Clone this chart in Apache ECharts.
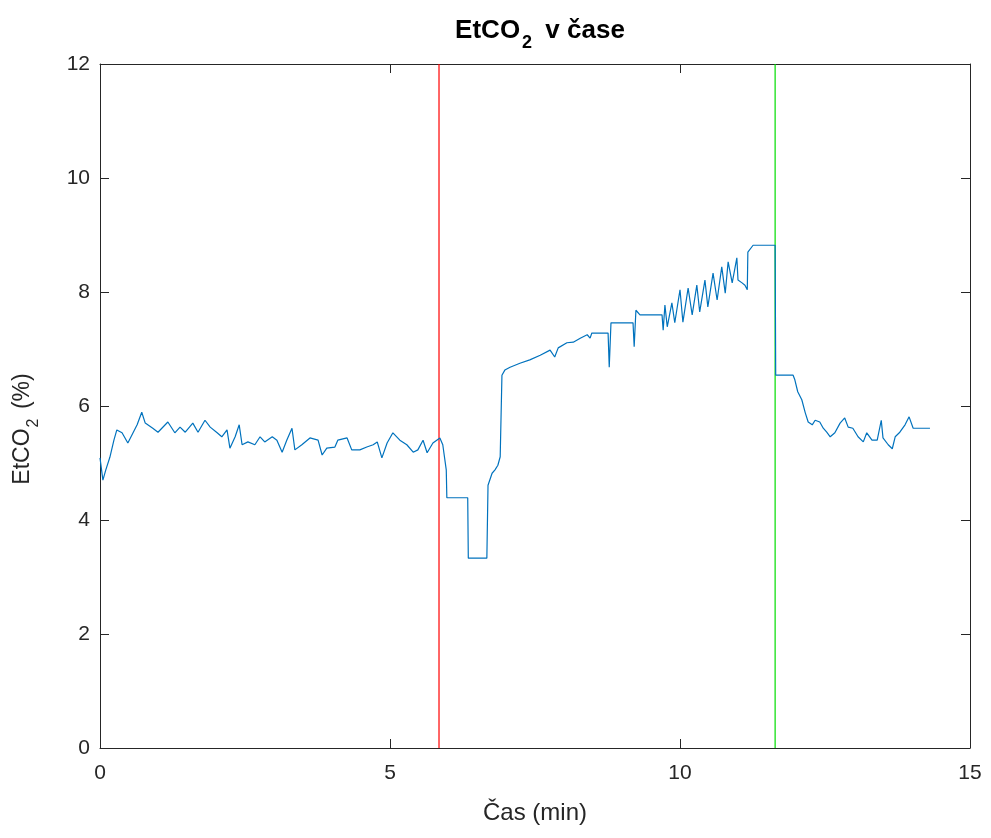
<!DOCTYPE html>
<html>
<head>
<meta charset="utf-8">
<script src="https://cdn.jsdelivr.net/npm/echarts@6/dist/echarts.min.js"></script>
<style>
  html, body { margin: 0; padding: 0; background: #fff; }
  #chart { width: 991px; height: 838px; }
</style>
</head>
<body>
<div id="chart"></div>
<script>
// čas (min)
const time = [0, 0.05, 0.10, 0.17, 0.24, 0.29, 0.38, 0.48, 0.57, 0.64, 0.72, 0.78, 0.91, 1.00, 1.17, 1.29, 1.38, 1.47, 1.60, 1.69,
  1.81, 1.90, 2.02, 2.10, 2.19, 2.24, 2.33, 2.40, 2.45, 2.55, 2.67, 2.76, 2.84, 2.97, 3.05, 3.14, 3.22, 3.31, 3.36, 3.48,
  3.62, 3.76, 3.83, 3.91, 4.05, 4.10, 4.26, 4.34, 4.48, 4.60, 4.71, 4.78, 4.86, 4.95, 5.05, 5.17, 5.29, 5.40, 5.48, 5.57,
  5.64, 5.74, 5.86, 5.91, 5.97, 5.98, 6.34, 6.35, 6.67, 6.69, 6.76, 6.81, 6.86, 6.90, 6.93, 6.98, 7.07, 7.24, 7.41, 7.59,
  7.76, 7.84, 7.90, 8.05, 8.16, 8.28, 8.40, 8.45, 8.48, 8.76, 8.78, 8.81, 9.19, 9.21, 9.24, 9.31, 9.69, 9.71, 9.74, 9.78,
  9.86, 9.91, 10.00, 10.05, 10.14, 10.21, 10.29, 10.34, 10.43, 10.48, 10.57, 10.64, 10.72, 10.78, 10.83, 10.90, 10.98, 11.00, 11.07, 11.12,
  11.16, 11.17, 11.26, 11.64, 11.65, 11.95, 11.98, 12.03, 12.10, 12.16, 12.21, 12.28, 12.33, 12.41, 12.47, 12.53, 12.59, 12.67, 12.76, 12.84,
  12.90, 12.98, 13.07, 13.16, 13.22, 13.31, 13.40, 13.47, 13.50, 13.59, 13.66, 13.71, 13.79, 13.88, 13.95, 14.02, 14.31];
// EtCO2 (%)
const etco2 = [5.09, 4.70, 4.88, 5.10, 5.40, 5.58, 5.53, 5.35, 5.53, 5.67, 5.89, 5.70, 5.61, 5.54, 5.72, 5.53, 5.63, 5.54, 5.70, 5.54,
  5.75, 5.63, 5.53, 5.46, 5.58, 5.26, 5.46, 5.67, 5.32, 5.37, 5.32, 5.46, 5.37, 5.46, 5.40, 5.19, 5.40, 5.61, 5.23, 5.32,
  5.44, 5.40, 5.14, 5.26, 5.28, 5.40, 5.44, 5.23, 5.23, 5.28, 5.32, 5.37, 5.09, 5.35, 5.53, 5.40, 5.32, 5.19, 5.23, 5.40,
  5.18, 5.35, 5.44, 5.32, 4.88, 4.39, 4.39, 3.33, 3.33, 4.61, 4.82, 4.88, 4.96, 5.11, 6.54, 6.63, 6.68, 6.75, 6.81, 6.89,
  6.98, 6.86, 7.02, 7.11, 7.12, 7.19, 7.25, 7.19, 7.28, 7.28, 6.68, 7.46, 7.46, 7.04, 7.68, 7.60, 7.60, 7.33, 7.77, 7.39,
  7.81, 7.46, 8.04, 7.47, 8.07, 7.60, 8.12, 7.65, 8.21, 7.74, 8.33, 7.86, 8.44, 7.98, 8.53, 8.16, 8.60, 8.21, 8.16, 8.12,
  8.04, 8.70, 8.82, 8.82, 6.54, 6.54, 6.46, 6.25, 6.11, 5.88, 5.72, 5.67, 5.75, 5.72, 5.61, 5.54, 5.46, 5.53, 5.70, 5.79,
  5.63, 5.61, 5.46, 5.37, 5.53, 5.40, 5.40, 5.75, 5.44, 5.32, 5.25, 5.46, 5.54, 5.67, 5.81, 5.61, 5.61];

// svislé značky (min)
const redMarker = 5.845;
const greenMarker = 11.64;

const xTicks = [0, 5, 10, 15];
const yTicks = [0, 2, 4, 6, 8, 10, 12];

const font = 'Liberation Sans, Arial, sans-serif';
const axisColor = '#262626';

const chart = echarts.init(document.getElementById('chart'), null, { renderer: 'canvas' });

const baseAxis = {
  axisLine: { show: true, onZero: false, lineStyle: { color: axisColor, width: 1 } },
  axisTick: { show: true, inside: true, length: 9, lineStyle: { color: axisColor } },
  splitLine: { show: false },
  axisLabel: { color: axisColor, fontSize: 21, fontFamily: font }
};

chart.setOption({
  animation: false,
  backgroundColor: '#fff',
  title: {
    text: '{a|EtCO}{s|2}{a| v čase}',
    left: 535,
    textAlign: 'center',
    top: 13,
    textStyle: {
      rich: {
        a: { fontSize: 26, fontWeight: 'bold', fontFamily: font, color: '#000', verticalAlign: 'top', lineHeight: 30 },
        s: { fontSize: 18, fontWeight: 'bold', fontFamily: font, color: '#000', verticalAlign: 'top', padding: [16, 6, 0, 2], lineHeight: 18 }
      }
    }
  },
  grid: { left: 100, right: 21, top: 64, bottom: 90 },
  xAxis: [
    Object.assign({}, baseAxis, {
      type: 'value', min: 0, max: 15, interval: 5, position: 'bottom',
      axisLabel: Object.assign({}, baseAxis.axisLabel, { margin: 15 }),
      name: 'Čas (min)', nameLocation: 'middle', nameGap: 53,
      nameTextStyle: { fontSize: 24, fontFamily: font, color: axisColor }
    }),
    Object.assign({}, baseAxis, {
      type: 'value', min: 0, max: 15, interval: 5, position: 'top',
      axisLabel: { show: false }
    })
  ],
  yAxis: [
    Object.assign({}, baseAxis, {
      type: 'value', min: 0, max: 12, interval: 2, position: 'left',
      axisLabel: Object.assign({}, baseAxis.axisLabel, { margin: 10 }),
      name: '{a|EtCO}{s|2}{a| (%)}', nameLocation: 'middle', nameGap: 62, nameRotate: 90,
      nameTextStyle: {
        padding: [0, 46, 0, 0],
        rich: {
          a: { fontSize: 23, fontFamily: font, color: axisColor, verticalAlign: 'top', lineHeight: 27 },
          s: { fontSize: 16, fontFamily: font, color: axisColor, verticalAlign: 'top', padding: [15, 3, 0, 1], lineHeight: 16 }
        }
      }
    }),
    Object.assign({}, baseAxis, {
      type: 'value', min: 0, max: 12, interval: 2, position: 'right',
      axisLabel: { show: false }
    })
  ],
  series: [
    {
      type: 'line',
      data: time.map((t, i) => [t, etco2[i]]),
      showSymbol: false,
      lineStyle: { color: '#0072BD', width: 1.2 },
      z: 3
    },
    {
      type: 'line',
      data: [[redMarker, yTicks[0]], [redMarker, yTicks[yTicks.length - 1]]],
      showSymbol: false,
      lineStyle: { color: '#ff0000', width: 1.2 },
      z: 2
    },
    {
      type: 'line',
      data: [[greenMarker, yTicks[0]], [greenMarker, yTicks[yTicks.length - 1]]],
      showSymbol: false,
      lineStyle: { color: '#00dd00', width: 1.2 },
      z: 2
    }
  ]
});
</script>
</body>
</html>
